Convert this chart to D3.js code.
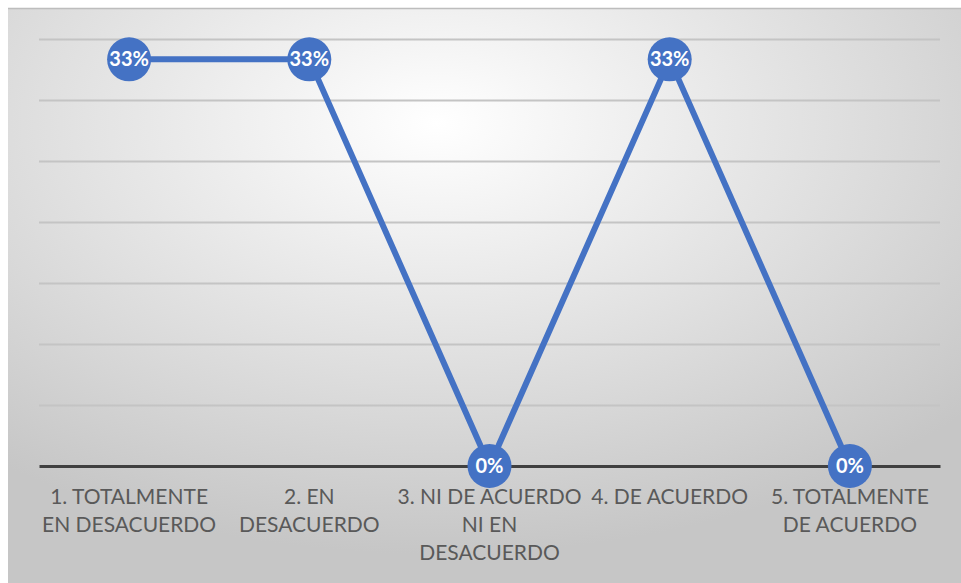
<!DOCTYPE html>
<html>
<head>
<meta charset="utf-8">
<script src="https://cdn.jsdelivr.net/npm/d3@7"></script>
<style>
  body { margin: 0; background: #fff; }
  svg { display: block; }
  .grid line { stroke: #c4c4c4; stroke-width: 2; }
  .grid path { display: none; }
  .cat { font-family: Lato, "Open Sans", sans-serif; font-size: 21px; fill: #595959; }
  .lbl { font-family: Lato, "Open Sans", sans-serif; font-size: 20px; font-weight: bold; fill: #fff; }
</style>
</head>
<body>
<svg id="chart"></svg>
<script>
// categories and wrapped tick labels as shown
const categories = ['1. TOTALMENTE EN DESACUERDO', '2. EN DESACUERDO', '3. NI DE ACUERDO NI EN DESACUERDO', '4. DE ACUERDO', '5. TOTALMENTE DE ACUERDO'];
const tickLines = [
  ['1. TOTALMENTE', 'EN DESACUERDO'],
  ['2. EN', 'DESACUERDO'],
  ['3. NI DE ACUERDO', 'NI EN', 'DESACUERDO'],
  ['4. DE ACUERDO'],
  ['5. TOTALMENTE', 'DE ACUERDO']
];
const values = [0.3333, 0.3333, 0, 0.3333, 0];
const valueLabels = ['33%', '33%', '0%', '33%', '0%'];
const yTicks = [0, 0.05, 0.10, 0.15, 0.20, 0.25, 0.30, 0.35];

const W = 961, H = 583;
const margin = {top: 39, right: 21, bottom: 117, left: 39};
const width = W - margin.left - margin.right;
const height = H - margin.top - margin.bottom;

const svg = d3.select('#chart').attr('width', W).attr('height', H);

// chart area background
const defs = svg.append('defs');
const grad = defs.append('radialGradient').attr('id', 'bg')
  .attr('cx', '45%').attr('cy', '20%').attr('r', '75%');
grad.append('stop').attr('offset', '0%').attr('stop-color', '#ffffff');
grad.append('stop').attr('offset', '100%').attr('stop-color', '#c6c6c6');

svg.append('rect').attr('x', 8).attr('y', 8).attr('width', W - 8).attr('height', H - 8)
  .attr('fill', 'url(#bg)');
svg.append('line').attr('x1', 8).attr('x2', W).attr('y1', 8.5).attr('y2', 8.5)
  .attr('stroke', '#bdbdbd').attr('stroke-width', 1.5);

const g = svg.append('g').attr('transform', `translate(${margin.left},${margin.top})`);

const x = d3.scaleBand().domain(categories).range([0, width]);
const y = d3.scaleLinear().domain([0, 0.35]).range([height, 0]);
const xFn = (d, i) => x(categories[i]) + x.bandwidth() / 2;

// gridlines
g.append('g').attr('class', 'grid')
  .call(d3.axisLeft(y).tickValues(yTicks.slice(1)).tickSize(-width).tickFormat(''));

// x axis
const xAxis = g.append('g').attr('transform', `translate(0,${height})`)
  .call(d3.axisBottom(x).tickSize(0).tickFormat(''));
xAxis.select('path').attr('stroke', '#404040').attr('stroke-width', 3);

// category labels
categories.forEach((c, i) => {
  const t = g.append('text').attr('class', 'cat').attr('text-anchor', 'middle')
    .attr('x', x(c) + x.bandwidth() / 2).attr('y', height + 38);
  tickLines[i].forEach((ln, j) => {
    t.append('tspan').attr('x', x(c) + x.bandwidth() / 2).attr('dy', j === 0 ? 0 : 28).text(ln);
  });
});

// line
const line = d3.line().x(xFn).y(d => y(d));
g.append('path').datum(values).attr('d', line)
  .attr('fill', 'none').attr('stroke', '#4472c4').attr('stroke-width', 6)
  .attr('stroke-linejoin', 'round');

// markers
g.selectAll('circle.pt').data(values).enter().append('circle').attr('class', 'pt')
  .attr('cx', xFn).attr('cy', d => y(d)).attr('r', 22)
  .attr('fill', '#4472c4');

g.selectAll('text.lbl').data(values).enter().append('text').attr('class', 'lbl')
  .attr('text-anchor', 'middle').attr('x', xFn).attr('y', d => y(d) + 7)
  .text((d, i) => valueLabels[i]);
</script>
</body>
</html>
